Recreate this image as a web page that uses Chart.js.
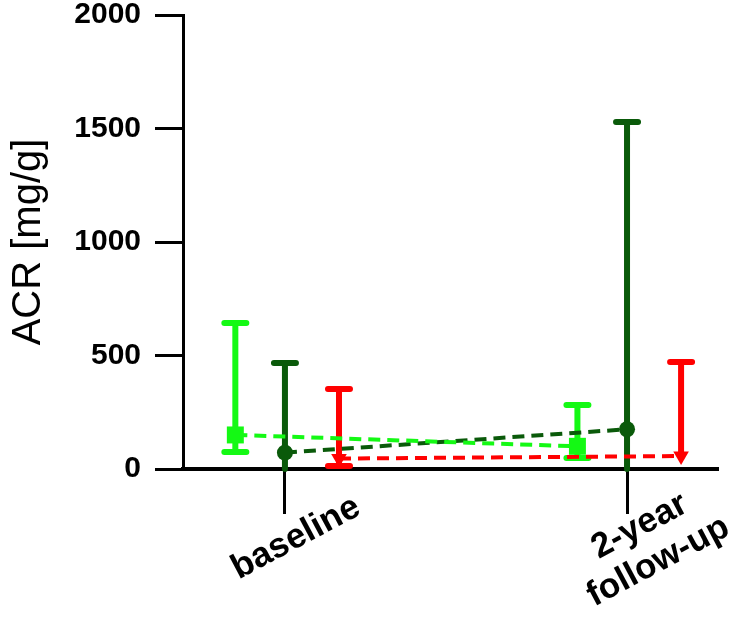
<!DOCTYPE html>
<html>
<head>
<meta charset="utf-8">
<script src="https://cdn.jsdelivr.net/npm/chart.js@4.4.1/dist/chart.umd.min.js"></script>
<style>
  html, body { margin: 0; padding: 0; background: #fff; }
</style>
</head>
<body>
<canvas id="acrChart" width="737" height="626"></canvas>
<script>
// categories on the x axis
const categories = ['baseline', ['2-year', 'follow-up']];
const timePoints = [0, 1];

// light green group: median with range
const lightMedian = [150, 100];
const lightLow = [75, 48];
const lightHigh = [643, 282];

// dark green group
const darkMedian = [72, 175];
const darkLow = [0, 0];
const darkHigh = [467, 1529];

// red group (no lower bar at follow-up)
const redMedian = [46, 57];
const redLow = [13, null];
const redHigh = [352, 471];

const LIGHT = '#14f914';
const DARK = '#0a5a0a';
const RED = '#ff0000';

// build a dataset, shifted a little left/right of the time point
const makeSeries = (median, low, high, shift, color, style, radius, rotation) => ({
    data: timePoints.map((t, i) => ({ x: t + shift, y: median[i] })),
    low: low,
    high: high,
    borderColor: color,
    backgroundColor: color,
    borderWidth: 4,
    borderDash: [12, 7],
    pointStyle: style,
    pointRadius: radius,
    pointRotation: rotation,
    pointBorderWidth: 0,
    tension: 0
});

// error bars, drawn under the markers
const errorBars = {
    id: 'errorBars',
    beforeDatasetsDraw(chart) {
        const ctx = chart.ctx;
        const y = chart.scales.y;
        chart.data.datasets.forEach((ds, i) => {
            const meta = chart.getDatasetMeta(i);
            meta.data.forEach((pt, j) => {
                const px = pt.x;
                const top = y.getPixelForValue(ds.high[j]);
                const hasLow = ds.low[j] !== null;
                const bottom = y.getPixelForValue(hasLow ? ds.low[j] : ds.data[j].y);
                ctx.save();
                ctx.strokeStyle = ds.borderColor;
                ctx.lineWidth = 6;
                ctx.lineCap = 'round';
                ctx.beginPath();
                ctx.moveTo(px, top);
                ctx.lineTo(px, bottom);
                ctx.moveTo(px - 11, top);
                ctx.lineTo(px + 11, top);
                if (hasLow && ds.low[j] > 0) {
                    ctx.moveTo(px - 11, bottom);
                    ctx.lineTo(px + 11, bottom);
                }
                ctx.stroke();
                ctx.restore();
            });
        });
    }
};

// rotated category labels under the x ticks
const xLabels = {
    id: 'xLabels',
    afterDraw(chart) {
        const ctx = chart.ctx;
        const x = chart.scales.x;
        const base = chart.chartArea.bottom + 45;
        ctx.save();
        ctx.fillStyle = '#000';
        ctx.font = 'bold 35px "Liberation Sans", Arial, sans-serif';
        ctx.textAlign = 'center';
        ctx.textBaseline = 'middle';
        categories.forEach((label, i) => {
            const lines = Array.isArray(label) ? label : [label];
            const px = x.getPixelForValue(timePoints[i]);
            const cx = px + (lines.length > 1 ? 22 : 11);
            const cy = base + (lines.length > 1 ? 30 : 24);
            ctx.save();
            ctx.translate(cx, cy);
            ctx.rotate(-28 * Math.PI / 180);
            const lh = 40;
            lines.forEach((ln, k) => {
                ctx.fillText(ln, 0, (k - (lines.length - 1) / 2) * lh);
            });
            ctx.restore();
        });
        ctx.restore();
    }
};

new Chart('acrChart', {
    type: 'line',
    data: {
        datasets: [
            makeSeries(lightMedian, lightLow, lightHigh, -0.145, LIGHT, 'rect', 12, 0),
            makeSeries(darkMedian, darkLow, darkHigh, 0, DARK, 'circle', 8, 0),
            makeSeries(redMedian, redLow, redHigh, 0.158, RED, 'triangle', 9, 180)
        ]
    },
    options: {
        responsive: false,
        animation: false,
        layout: { padding: { top: 15, right: 20, left: 0, bottom: 0 } },
        plugins: {
            legend: { display: false },
            tooltip: { enabled: false }
        },
        scales: {
            x: {
                type: 'linear',
                min: -0.298,
                max: 1.263,
                afterBuildTicks: s => { s.ticks = timePoints.map(v => ({ value: v })); },
                afterFit: s => { s.height = 157; },
                ticks: { display: false },
                grid: { drawOnChartArea: false, tickLength: 45, lineWidth: 3, color: '#000' },
                border: { width: 4, color: '#000' }
            },
            y: {
                min: 0,
                max: 2000,
                afterFit: s => { s.width = 183; s.paddingTop = 0; s.paddingBottom = 0; },
                ticks: {
                    stepSize: 500,
                    padding: 14,
                    color: '#000',
                    callback: v => String(v),
                    font: { family: '"Liberation Sans", Arial, sans-serif', size: 30, weight: 'bold', lineHeight: 1 }
                },
                grid: { drawOnChartArea: false, tickLength: 28, lineWidth: 3, color: '#000' },
                border: { width: 3, color: '#000' },
                title: {
                    display: true,
                    text: 'ACR [mg/g]',
                    color: '#000',
                    padding: { top: 9, bottom: 0 },
                    font: { family: '"Liberation Sans", Arial, sans-serif', size: 40, lineHeight: 1 }
                }
            }
        }
    },
    plugins: [errorBars, xLabels]
});
</script>
</body>
</html>
